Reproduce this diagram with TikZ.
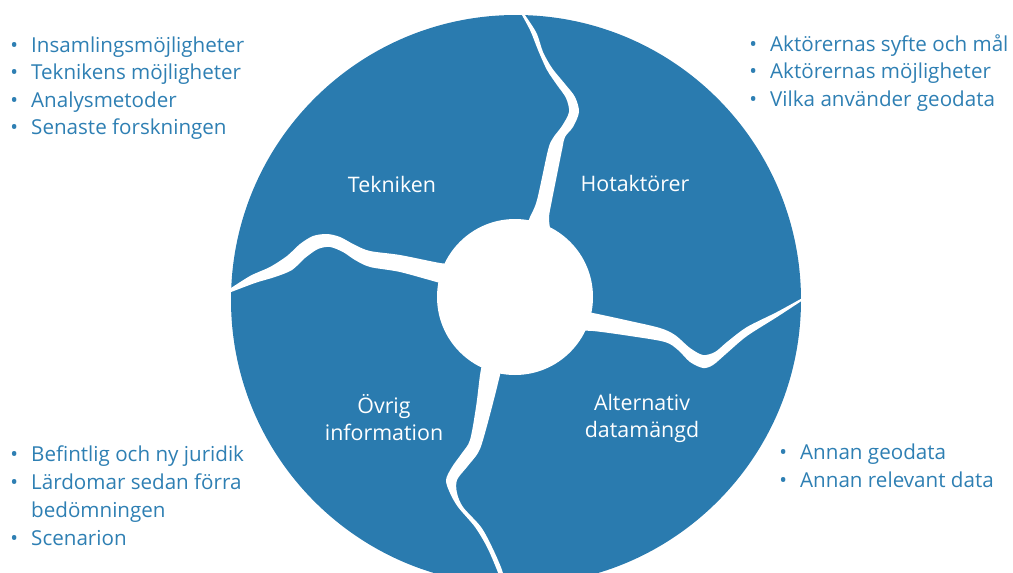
\documentclass[tikz,border=0pt]{standalone}
\usepackage{fontspec}
\setmainfont{Open Sans}
\definecolor{wheelblue}{HTML}{2A7BAF}
\definecolor{listblue}{HTML}{2E7FB3}
\newcommand{\bul}{\makebox[0pt][c]{•}\hspace{17pt}}
\newcommand{\nobul}{\hspace{17pt}}
\begin{document}
\begin{tikzpicture}[x=1pt,y=-1pt,
  lab/.style={text=white, font=\fontsize{21.4}{27}\selectfont, align=center, inner sep=0pt},
  item/.style={text=listblue, font=\fontsize{20.6}{27}\selectfont, anchor=base west, inner sep=0pt},
  gap/.style={fill=white}]
\useasboundingbox (0,0) rectangle (1013,573);
\begin{scope}
\clip (0,0) rectangle (1013,573);
% the wheel
\fill[wheelblue] (516,300) circle[radius=285pt];
% tapered white gaps between the four sectors
\fill[gap] plot[smooth] coordinates {(526,228) (530,217) (537,200) (548,150) (553,138) (562,126) (569,112) (566,98) (557,85) (547,70) (538,50) (530,30) (518,8)}
  -- plot[smooth] coordinates {(520,8) (536,32) (543,52) (552,68) (565,84) (575,97) (579,112) (573,127) (565,137) (562,150) (552,200) (549,217) (550,228)} -- cycle;
\fill[gap] plot[smooth] coordinates {(455,264) (440,263) (400,255) (370,251) (355,245) (340,237) (327,234) (313,236) (300,244) (287,256) (270,267) (250,276) (225,292)}
  -- plot[smooth] coordinates {(226,294) (255,283) (275,277) (292,270) (305,258) (318,249) (330,247) (343,252) (355,260) (370,267) (400,272) (440,283) (455,287)} -- cycle;
\fill[gap] plot[smooth] coordinates {(575,310) (593,313) (630,321) (660,328) (675,335) (690,348) (703,355) (715,352) (727,342) (747,327) (777,312) (806,296)}
  -- plot[smooth] coordinates {(806,298) (777,317) (747,336) (727,353) (713,365) (703,368) (690,362) (678,350) (665,342) (630,336) (593,331) (575,331)} -- cycle;
\fill[gap] plot[smooth] coordinates {(482,365) (480,375) (476,407) (470,440) (462,453) (452,467) (446,480) (450,493) (458,507) (475,527) (487,547) (497,570) (505,592)}
  -- plot[smooth] coordinates {(508,592) (502,570) (492,547) (481,527) (463,507) (457,493) (457,480) (467,467) (478,453) (483,440) (492,407) (500,375) (502,365)} -- cycle;
% hub
\fill[white] (515,297) circle[radius=78pt];
\end{scope}
% sector labels
\node[lab] (tek) at (392,184) {Tekniken};
\node[lab] (hot) at (635,183) {Hotaktörer};
\node[lab] (ovr) at (384,418) {Övrig\\information};
\node[lab] (alt) at (642,418) {Alternativ\\datamängd};
% bullet lists
\node[item] (t1) at (14,52) {\bul Insamlingsmöjligheter};
\node[item] (t2) at (14,79.5) {\bul Teknikens möjligheter};
\node[item] (t3) at (14,107) {\bul Analysmetoder};
\node[item] (t4) at (14,134.5) {\bul Senaste forskningen};
\node[item] (h1) at (753,51) {\bul Aktörernas syfte och mål};
\node[item] (h2) at (753,78.5) {\bul Aktörernas möjligheter};
\node[item] (h3) at (753,106) {\bul Vilka använder geodata};
\node[item] (o1) at (14,461) {\bul Befintlig och ny juridik};
\node[item] (o2) at (14,489) {\bul Lärdomar sedan förra};
\node[item] (o3) at (14,517) {\nobul bedömningen};
\node[item] (o4) at (14,545) {\bul Scenarion};
\node[item] (a1) at (783,459) {\bul Annan geodata};
\node[item] (a2) at (783,487) {\bul Annan relevant data};
\end{tikzpicture}
\end{document}
